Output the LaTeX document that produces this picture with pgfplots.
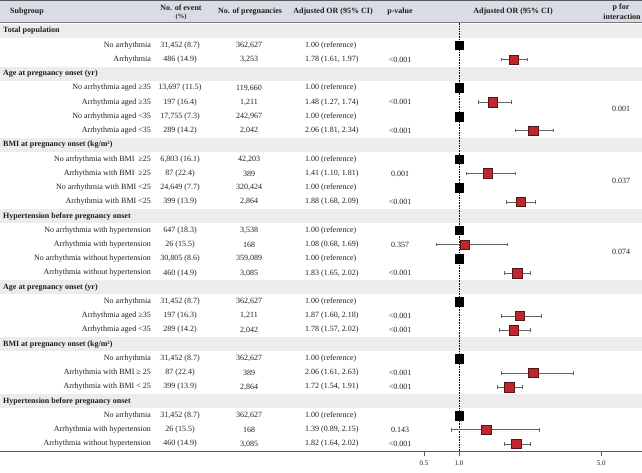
\documentclass[border=0pt]{standalone}
\usepackage{pgfplots}
\pgfplotsset{compat=1.18}
\usepackage{fontspec}
\setmainfont{Liberation Serif}

\definecolor{hdrband}{RGB}{216,221,229}
\definecolor{grpband}{RGB}{236,236,236}
\definecolor{rulecol}{RGB}{90,90,90}
\definecolor{ormark}{RGB}{192,38,44}
\definecolor{ormarkedge}{RGB}{80,22,22}
\definecolor{whisker}{RGB}{100,100,100}
\definecolor{txt}{RGB}{30,30,30}

% one table row: index, subgroup, events, pregnancies, OR text, p-value
\newcommand\row[6]{%
  \node[anchor=east] at (151,#1) {#2};
  \node at (180,#1) {#3};
  \node at (249,#1) {#4};
  \node[anchor=west] at (305,#1) {#5};
  \node at (400,#1) {#6};
}
\newcommand\group[2]{%
  \fill[grpband] (0,#1-0.49) rectangle (642,#1+0.49);
  \node[anchor=west,font=\fontsize{8}{9}\selectfont\bfseries] at (3,#1) {#2};
}

\begin{document}
\begin{tikzpicture}[font=\fontsize{8}{9}\selectfont, inner sep=0pt, text=txt]
\path[use as bounding box] (0,0) rectangle (642pt,-472pt);

% header
\begin{scope}[x=1pt,y=-1pt]
  \fill[hdrband] (0,1) rectangle (642,22);
  \draw[rulecol, line width=1.2pt] (0,0.8) -- (642,0.8);
  \draw[rulecol!80, line width=0.6pt] (0,22.5) -- (642,22.5);
  \begin{scope}[font=\fontsize{8}{9}\selectfont\bfseries]
    \node[anchor=west] at (10,12) {Subgroup};
    \node at (181,8) {No. of event};
    \node[font=\fontsize{6.5}{7}\selectfont\bfseries] at (181,17) {(\%)};
    \node at (250,12) {No. of pregnancies};
    \node at (333,12) {Adjusted OR (95\% CI)};
    \node at (400,12) {p-value};
    \node at (513,12) {Adjusted OR (95\% CI)};
    \node at (621,8) {p for};
    \node at (622,17) {interaction};
  \end{scope}
  \draw[rulecol, line width=0.8pt] (0,451) -- (642,451);
\end{scope}

% body rows
\begin{scope}[x=1pt,y=-14.24pt,yshift=-31pt]
  \group{0}{Total population}
  \row{1}{No arrhythmia}{31,452 (8.7)}{362,627}{1.00 (reference)}{}
  \row{2}{Arrhythmia}{486 (14.9)}{3,253}{1.78 (1.61, 1.97)}{<0.001}
  \group{3}{Age at pregnancy onset (yr)}
  \row{4}{No arrhythmia aged ≥35}{13,697 (11.5)}{119,660}{1.00 (reference)}{}
  \row{5}{Arrhythmia aged ≥35}{197 (16.4)}{1,211}{1.48 (1.27, 1.74)}{<0.001}
  \row{6}{No arrhythmia aged <35}{17,755 (7.3)}{242,967}{1.00 (reference)}{}
  \row{7}{Arrhythmia aged <35}{289 (14.2)}{2,042}{2.06 (1.81, 2.34)}{<0.001}
  \node at (621,5.45) {0.001};
  \group{8}{BMI at pregnancy onset (kg/m²)}
  \row{9}{No arrhythmia with BMI \ ≥25}{6,803 (16.1)}{42,203}{1.00 (reference)}{}
  \row{10}{Arrhythmia with BMI \ ≥25}{87 (22.4)}{389}{1.41 (1.10, 1.81)}{0.001}
  \row{11}{No arrhythmia with BMI <25}{24,649 (7.7)}{320,424}{1.00 (reference)}{}
  \row{12}{Arrhythmia with BMI <25}{399 (13.9)}{2,864}{1.88 (1.68, 2.09)}{<0.001}
  \node at (621,10.5) {0.037};
  \group{13}{Hypertension before pregnancy onset}
  \row{14}{No arrhythmia with hypertension}{647 (18.3)}{3,538}{1.00 (reference)}{}
  \row{15}{Arrhythmia with hypertension}{26 (15.5)}{168}{1.08 (0.68, 1.69)}{0.357}
  \row{16}{No arrhythmia without hypertension}{30,805 (8.6)}{359,089}{1.00 (reference)}{}
  \row{17}{Arrhythmia without hypertension}{460 (14.9)}{3,085}{1.83 (1.65, 2.02)}{<0.001}
  \node at (621,15.5) {0.074};
  \group{18}{Age at pregnancy onset (yr)}
  \row{19}{No arrhythmia}{31,452 (8.7)}{362,627}{1.00 (reference)}{}
  \row{20}{Arrhythmia aged ≥35}{197 (16.3)}{1,211}{1.87 (1.60, 2.18)}{<0.001}
  \row{21}{Arrhythmia aged <35}{289 (14.2)}{2,042}{1.78 (1.57, 2.02)}{<0.001}
  \group{22}{BMI at pregnancy onset (kg/m²)}
  \row{23}{No arrhythmia}{31,452 (8.7)}{362,627}{1.00 (reference)}{}
  \row{24}{Arrhythmia with BMI ≥ 25}{87 (22.4)}{389}{2.06 (1.61, 2.63)}{<0.001}
  \row{25}{Arrhythmia with BMI < 25}{399 (13.9)}{2,864}{1.72 (1.54, 1.91)}{<0.001}
  \group{26}{Hypertension before pregnancy onset}
  \row{27}{No arrhythmia}{31,452 (8.7)}{362,627}{1.00 (reference)}{}
  \row{28}{Arrhythmia with hypertension}{26 (15.5)}{168}{1.39 (0.89, 2.15)}{0.143}
  \row{29}{Arrhythmia without hypertension}{460 (14.9)}{3,085}{1.82 (1.64, 2.02)}{<0.001}
\end{scope}

% forest plot
\begin{axis}[
  at={(400pt,-23pt)}, anchor=north west,
  scale only axis, width=242pt, height=428pt,
  xmin=0.157, xmax=3.614, ymin=-0.56, ymax=29.49,
  y dir=reverse,
  axis y line=none, axis x line*=bottom,
  x axis line style={-, draw=rulecol, line width=0.8pt},
  xtick={0.5,1,3.03}, xticklabels={0.5,1.0,5.0},
  tick align=outside, major tick length=5pt,
  tick style={rulecol, line width=0.6pt},
  xticklabel style={font=\fontsize{7}{8}\selectfont, text=txt, inner sep=2pt, yshift=-3pt},
  /pgf/number format/assume math mode=true,
  clip=false,
]
\draw[black, line width=0.5pt, dash pattern=on 1.6pt off 1pt]
  (axis cs:1,-0.56) -- (axis cs:1,29.49);

% reference groups
\addplot[only marks, mark=square*, mark size=4.3pt,
  mark options={fill=black, draw=black}] table {
or row
1 1
1 4
1 6
1 9
1 11
1 14
1 16
1 19
1 23
1 27
};

% adjusted odds ratios with 95% CI
\addplot[only marks, mark=square*, mark size=4.7pt,
  mark options={fill=ormark, draw=ormarkedge, line width=0.5pt},
  error bars/.cd, x dir=both, x explicit,
  error bar style={whisker, line width=0.6pt},
  error mark options={whisker, mark size=1.8pt, line width=0.6pt, rotate=90}]
  table[x=or, y=row,
        x error plus expr=\thisrow{hi}-\thisrow{or},
        x error minus expr=\thisrow{or}-\thisrow{lo}] {
or lo hi row
1.78 1.61 1.97 2
1.48 1.27 1.74 5
2.06 1.81 2.34 7
1.41 1.10 1.81 10
1.88 1.68 2.09 12
1.08 0.68 1.69 15
1.83 1.65 2.02 17
1.87 1.60 2.18 20
1.78 1.57 2.02 21
2.06 1.61 2.63 24
1.72 1.54 1.91 25
1.39 0.89 2.15 28
1.82 1.64 2.02 29
};
\end{axis}
\end{tikzpicture}
\end{document}
